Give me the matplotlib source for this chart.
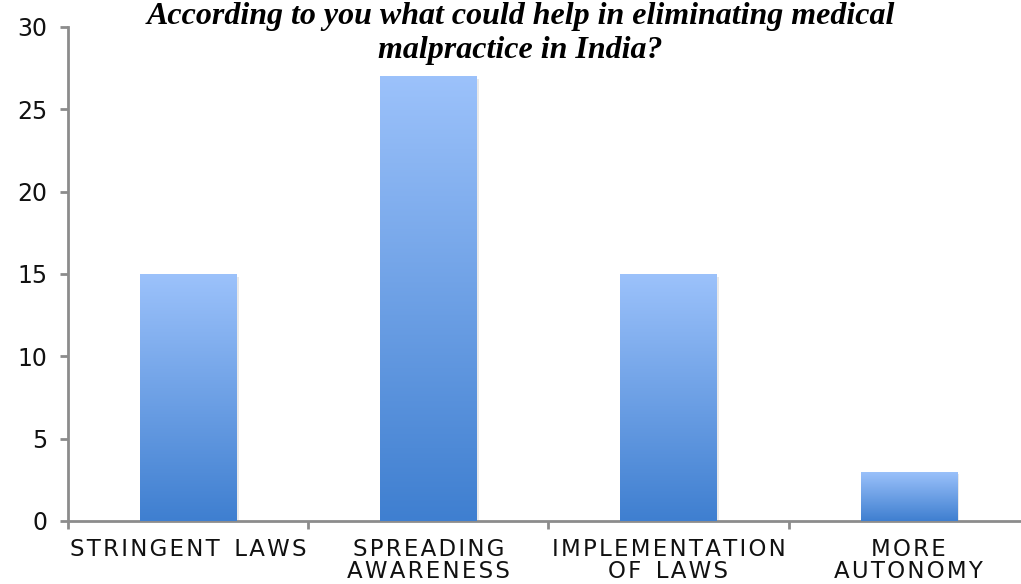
import numpy as np
import matplotlib
matplotlib.use("Agg")
import matplotlib.pyplot as plt
import matplotlib.patheffects as pe
from matplotlib.colors import LinearSegmentedColormap

categories = ["STRINGENT LAWS", "SPREADING\nAWARENESS", "IMPLEMENTATION\nOF LAWS", "MORE\nAUTONOMY"]
values = [15, 27, 15, 3]
y_ticks = [0, 5, 10, 15, 20, 25, 30]
title = "According to you what could help in eliminating medical\nmalpractice in India?"


def spaced(s):
    # widen the caps a bit, the original font is very wide
    out = []
    for line in s.split("\n"):
        out.append("  ".join("\u200a".join(w) for w in line.split(" ")))
    return "\n".join(out)


fig = plt.figure(figsize=(10.21, 5.84), dpi=100)
ax = fig.add_axes([0.0666, 0.108, 0.941, 0.846])

x = np.arange(len(categories))
bars = ax.bar(x, values, width=0.4, color="#6a9fe6", zorder=2)

# vertical gradient inside each bar, light on top
cmap = LinearSegmentedColormap.from_list("blu", ["#3f7fd0", "#9cc2fb"])
grad = np.linspace(0, 1, 256).reshape(-1, 1)
for b in bars:
    b.set_path_effects([pe.SimplePatchShadow(offset=(2, -2), alpha=0.18, shadow_rgbFace="#888888"), pe.Normal()])
    x0, y0 = b.get_x(), b.get_y()
    w, h = b.get_width(), b.get_height()
    im = ax.imshow(grad, cmap=cmap, origin="lower", aspect="auto",
                   extent=[x0, x0 + w, y0, y0 + h], zorder=3)
    im.set_clip_path(b)

ax.set_xlim(-0.5, len(categories) - 0.5)
ax.set_ylim(0, 30)
ax.set_yticks(y_ticks)
ax.set_xticks(x)
ax.set_xticklabels([spaced(c) for c in categories], fontsize=16.5, color="#111111", linespacing=0.95)
ax.set_xticks(np.arange(len(categories) + 1) - 0.5, minor=True)
ax.tick_params(axis="x", which="major", length=0, pad=12)
ax.tick_params(axis="x", which="minor", length=6, width=2, color="#8c8c8c", direction="out")
ax.tick_params(axis="y", length=6, width=2, color="#8c8c8c", labelsize=17, pad=9, labelcolor="#111111")

for s in ["top", "right"]:
    ax.spines[s].set_visible(False)
for s in ["left", "bottom"]:
    ax.spines[s].set_color("#8c8c8c")
    ax.spines[s].set_linewidth(2)

fig.text(0.51, 0.996, title, ha="center", va="top", fontsize=23,
         family="Liberation Serif", weight="bold", style="italic", linespacing=1.2)

fig.savefig("out.png", dpi=100)
